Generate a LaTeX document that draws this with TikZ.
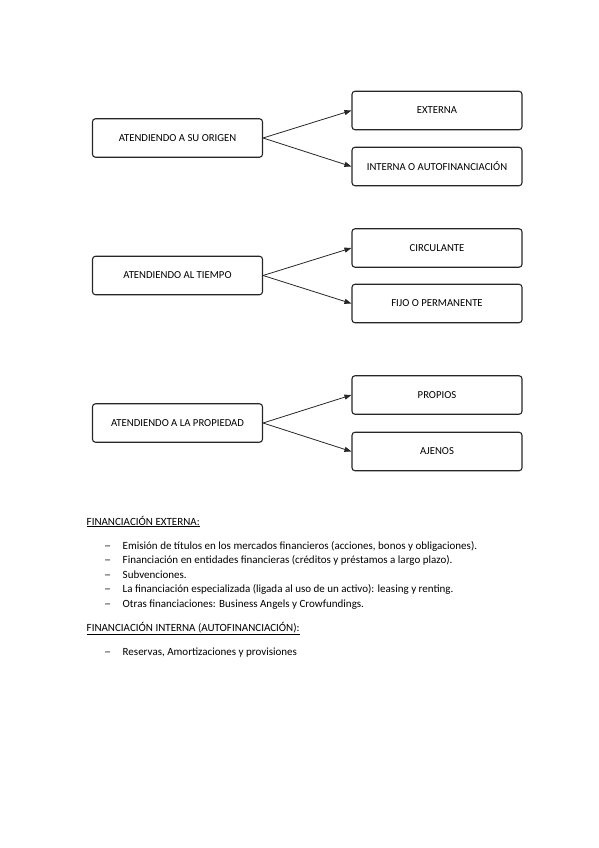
\documentclass[tikz,border=0pt]{standalone}
\usepackage{fontspec}
\setmainfont{Carlito}
\usetikzlibrary{arrows.meta}
\begin{document}
\begin{tikzpicture}[x=1pt,y=-1pt,
  box/.style={draw=black!85,line width=1.1pt,rounded corners=3pt,minimum width=170pt,minimum height=38.5pt,inner sep=0pt,font=\fontsize{10.7}{12}\selectfont},
  conn/.style={draw=black!85,line width=0.8pt,-{Triangle[length=7pt,width=5pt]}},
  body/.style={anchor=base west,inner sep=0pt,font=\fontsize{11}{13}\selectfont},
  dashitem/.style={anchor=base west,inner sep=0pt,font=\fontsize{11}{13}\selectfont}]
\useasboundingbox (0,0) rectangle (599,848);
% group 1
\node[box] (o) at (177.5,138) {ATENDIENDO A SU ORIGEN};
\node[box] (ext) at (437,110.5) {EXTERNA};
\node[box] (int) at (437,166.5) {INTERNA O AUTOFINANCIACIÓN};
\draw[conn] (o.east) -- (ext.west);
\draw[conn] (o.east) -- (int.west);
% group 2
\node[box] (t) at (177.5,275.5) {ATENDIENDO AL TIEMPO};
\node[box] (cir) at (437,248) {CIRCULANTE};
\node[box] (fij) at (437,303.5) {FIJO O PERMANENTE};
\draw[conn] (t.east) -- (cir.west);
\draw[conn] (t.east) -- (fij.west);
% group 3
\node[box] (p) at (177.5,423) {ATENDIENDO A LA PROPIEDAD};
\node[box] (pro) at (437,395) {PROPIOS};
\node[box] (aje) at (437,451.5) {AJENOS};
\draw[conn] (p.east) -- (pro.west);
\draw[conn] (p.east) -- (aje.west);
% text
\node[body] (h1) at (86.5,525) {\underline{FINANCIACIÓN EXTERNA:}};
\node[dashitem] (d1) at (104,549) {\scalebox{1.3}[1]{–}};
\node[body] (l1) at (122.5,549) {Emisión de títulos en los mercados financieros (acciones, bonos y obligaciones).};
\node[dashitem] (d2) at (104,563.5) {\scalebox{1.3}[1]{–}};
\node[body] (l2) at (122.5,563.5) {Financiación en entidades financieras (créditos y préstamos a largo plazo).};
\node[dashitem] (d3) at (104,578) {\scalebox{1.3}[1]{–}};
\node[body] (l3) at (122.5,578) {Subvenciones.};
\node[dashitem] (d4) at (104,592.5) {\scalebox{1.3}[1]{–}};
\node[body] (l4) at (122.5,592.5) {La financiación especializada (ligada al uso de un activo): leasing y renting.};
\node[dashitem] (d5) at (104,607) {\scalebox{1.3}[1]{–}};
\node[body] (l5) at (122.5,607) {Otras financiaciones: Business Angels y Crowfundings.};
\node[body] (h2) at (86.5,631) {\underline{FINANCIACIÓN INTERNA (AUTOFINANCIACIÓN):}};
\node[dashitem] (d6) at (104,655) {\scalebox{1.3}[1]{–}};
\node[body] (l6) at (122.5,655) {Reservas, Amortizaciones y provisiones};
\end{tikzpicture}
\end{document}
